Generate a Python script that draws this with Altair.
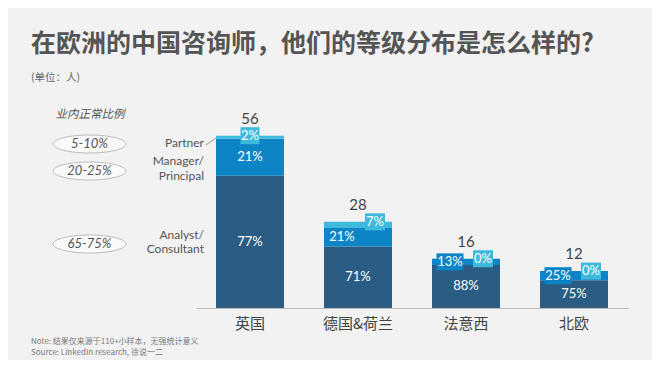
import altair as alt
import pandas as pd

# ---------------- data ----------------
cats = ["英国", "德国&荷兰", "法意西", "北欧"]
analyst = [43, 20, 14, 9]
manager = [12, 6, 2, 3]
partner = [1, 2, 0, 0]
analyst_pct = ["77%", "71%", "88%", "75%"]
manager_pct = ["21%", "21%", "13%", "25%"]
partner_pct = ["2%", "7%", "0%", "0%"]
levels = ["Analyst/Consultant", "Manager/Principal", "Partner"]
norm_ranges = ["5-10%", "20-25%", "65-75%"]

title_text = "在欧洲的中国咨询师，他们的等级分布是怎么样的?"
subtitle_text = "(单位：人)"
norm_title = "业内正常比例"
note_text = "Note: 结果仅来源于110+小样本，无强统计意义"
source_text = "Source: LinkedIn research, 徐说一二"

# ---------------- styling ----------------
COL = {levels[0]: "#2a5c84", levels[1]: "#0d84c6", levels[2]: "#3db9dc"}
BG = "#f2f2f2"
W, H = 432, 200
YMAX = 65
PX = H / YMAX
HB = 8.5 / PX
LATIN = "Lato"
CJK = "Noto Sans CJK SC"

rows = []
for i, c in enumerate(cats):
    a, m, p = analyst[i], manager[i], partner[i]
    rows.append(dict(cat=c, level=levels[0], y0=0, y1=a))
    rows.append(dict(cat=c, level=levels[1], y0=a, y1=a + m))
    rows.append(dict(cat=c, level=levels[2], y0=a + m, y1=a + m + p))
bars_df = pd.DataFrame(rows)

lab = pd.DataFrame({
    "cat": cats,
    "total": [analyst[i] + manager[i] + partner[i] for i in range(len(cats))],
    "a_mid": [analyst[i] / 2 for i in range(len(cats))],
    "m_mid": [analyst[i] + manager[i] / 2 for i in range(len(cats))],
    "apct": analyst_pct,
    "mpct": manager_pct,
    "ppct": partner_pct,
})
lab["m_lo"] = lab["m_mid"] - HB
lab["m_hi"] = lab["m_mid"] + HB
lab["p_lo"] = lab["total"] - HB
lab["p_hi"] = lab["total"] + HB
lab_uk = lab.iloc[:1]
lab_ot = lab.iloc[1:]

yscale = alt.Scale(domain=[0, YMAX], nice=False, zero=True)
x_enc = alt.X(
    "cat:N", sort=cats,
    scale=alt.Scale(paddingInner=0, paddingOuter=0),
    axis=alt.Axis(title=None, labelAngle=0, ticks=False, domainColor="#bdbdbd",
                  labelFont=CJK, labelFontSize=15, labelColor="#444444",
                  labelPadding=8, grid=False),
)


def Y(f):
    return alt.Y(f, scale=yscale, axis=None)


layers = []

bars = alt.Chart(bars_df).mark_bar(width=68).encode(
    x=x_enc, y=Y("y0:Q"), y2="y1:Q",
    color=alt.Color("level:N", scale=alt.Scale(domain=list(COL.keys()), range=list(COL.values())), legend=None),
)
layers.append(bars)

txt = dict(font=LATIN, fontSize=13, color="white", baseline="middle", align="center")

# analyst labels
layers.append(alt.Chart(lab).mark_text(**txt).encode(x=x_enc, y=Y("a_mid:Q"), text="apct:N"))
# manager labels
layers.append(alt.Chart(lab_uk).mark_text(**txt).encode(x=x_enc, y=Y("m_mid:Q"), text="mpct:N"))
layers.append(alt.Chart(lab_ot).mark_bar(width=27, xOffset=-16, color=COL[levels[1]]).encode(
    x=x_enc, y=Y("m_lo:Q"), y2="m_hi:Q"))
layers.append(alt.Chart(lab_ot).mark_text(dx=-16, **txt).encode(x=x_enc, y=Y("m_mid:Q"), text="mpct:N"))
# partner labels
layers.append(alt.Chart(lab_uk).mark_bar(width=19, color=COL[levels[2]]).encode(
    x=x_enc, y=Y("p_lo:Q"), y2="p_hi:Q"))
layers.append(alt.Chart(lab_uk).mark_text(**txt).encode(x=x_enc, y=Y("total:Q"), text="ppct:N"))
layers.append(alt.Chart(lab_ot).mark_bar(width=20, xOffset=17, color=COL[levels[2]]).encode(
    x=x_enc, y=Y("p_lo:Q"), y2="p_hi:Q"))
layers.append(alt.Chart(lab_ot).mark_text(dx=17, **txt).encode(x=x_enc, y=Y("total:Q"), text="ppct:N"))
# totals
layers.append(alt.Chart(lab).mark_text(dy=-17, font=LATIN, fontSize=15, color="#444444",
                                       baseline="middle").encode(x=x_enc, y=Y("total:Q"), text="total:Q"))

dummy = pd.DataFrame({"d": [0]})


def label(text, x, y, **kw):
    return alt.Chart(dummy).mark_text(**kw).encode(
        x=alt.value(x), y=alt.value(y), text=alt.value(text))


layers.append(label(title_text, -165, -64, font=CJK, fontSize=25, fontWeight="bold",
                    color="#555555", align="left", baseline="middle"))
layers.append(label(subtitle_text, -165, -30, font=CJK, fontSize=10.5,
                    color="#666666", align="left", baseline="middle"))
layers.append(label(norm_title, -106, 7, font=CJK, fontSize=11.5, fontStyle="italic",
                    color="#555555", align="center", baseline="middle"))

RX = 36.5
ell_path = ("M-1,0C-1,-0.136 -0.552,-0.2466 0,-0.2466C0.552,-0.2466 1,-0.136 1,0"
            "C1,0.136 0.552,0.2466 0,0.2466C-0.552,0.2466 -1,0.136 -1,0Z")
for rng, yy in zip(norm_ranges, [36, 63, 136]):
    layers.append(alt.Chart(dummy).mark_point(
        shape=ell_path, size=(2 * RX) ** 2, filled=False, fill="#f9f9f9",
        fillOpacity=1, opacity=1, stroke="#bcbcbc", strokeWidth=1).encode(
        x=alt.value(-106.5), y=alt.value(yy)))
    layers.append(label(rng, -106.5, yy, font=LATIN, fontSize=13, fontStyle="italic",
                        color="#555555", align="center", baseline="middle"))

cat_lines = [("Partner", 35), ("Manager/", 53), ("Principal", 68),
             ("Analyst/", 127), ("Consultant", 141)]
for t, yy in cat_lines:
    layers.append(label(t, 8, yy, font=LATIN, fontSize=12, color="#555555",
                        align="right", baseline="middle"))

layers.append(alt.Chart(dummy).mark_rule(color="#9a9a9a", strokeWidth=1).encode(
    x=alt.value(10), y=alt.value(37), x2=alt.value(20), y2=alt.value(30)))

layers.append(label(note_text, -165, 234, font=CJK, fontSize=8, color="#7a7a7a",
                    align="left", baseline="middle"))
layers.append(label(source_text, -165, 245, font=CJK, fontSize=8, color="#7a7a7a",
                    align="left", baseline="middle"))

chart = alt.layer(*layers).properties(
    width=W, height=H,
    padding={"left": 188, "top": 100, "right": 24, "bottom": 52},
    autosize=alt.AutoSizeParams(type="none"),
    background=BG,
).configure_view(stroke=None)

chart.save("out.html", embed_options={"renderer": "svg", "actions": False})
